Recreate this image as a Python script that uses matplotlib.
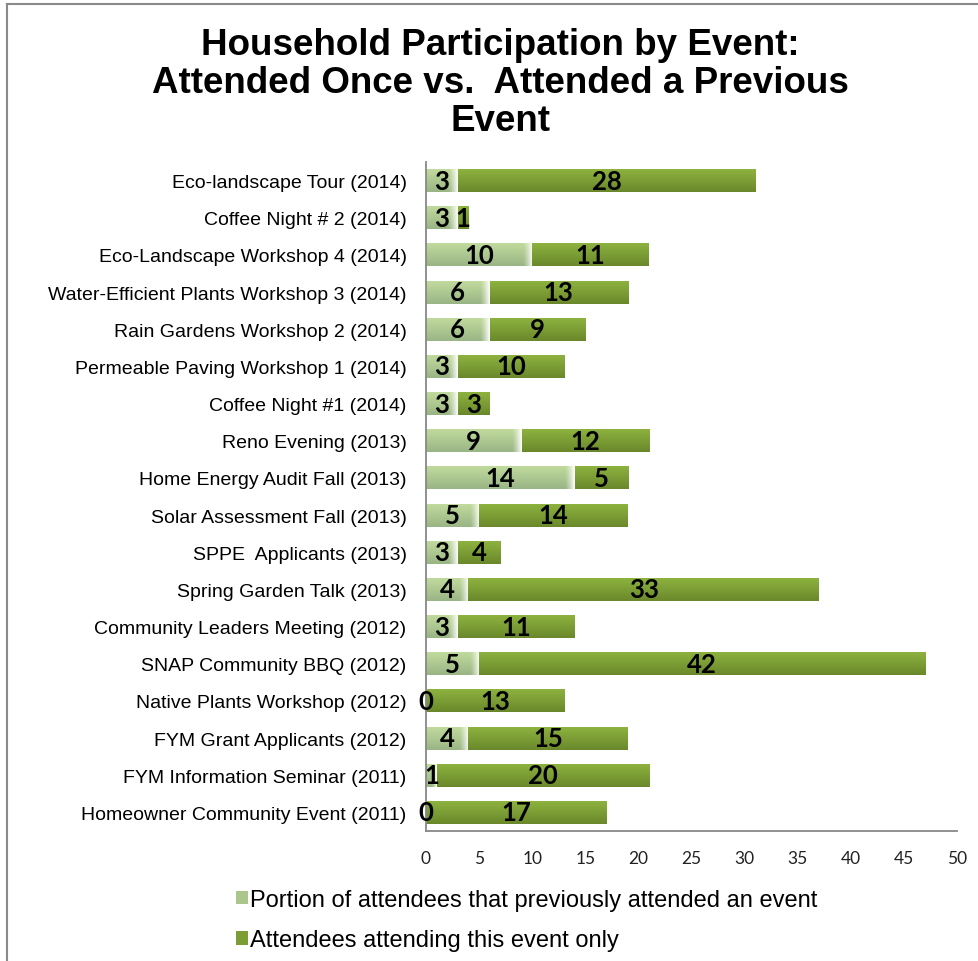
import matplotlib.pyplot as plt
import numpy as np
from matplotlib.colors import to_rgb
from matplotlib.lines import Line2D
from matplotlib.patches import Patch

# events listed top to bottom
events = [
    'Eco-landscape Tour (2014)',
    'Coffee Night # 2 (2014)',
    'Eco-Landscape Workshop 4 (2014)',
    'Water-Efficient Plants Workshop 3 (2014)',
    'Rain Gardens Workshop 2 (2014)',
    'Permeable Paving Workshop 1 (2014)',
    'Coffee Night #1 (2014)',
    'Reno Evening (2013)',
    'Home Energy Audit Fall (2013)',
    'Solar Assessment Fall (2013)',
    'SPPE  Applicants (2013)',
    'Spring Garden Talk (2013)',
    'Community Leaders Meeting (2012)',
    'SNAP Community BBQ (2012)',
    'Native Plants Workshop (2012)',
    'FYM Grant Applicants (2012)',
    'FYM Information Seminar (2011)',
    'Homeowner Community Event (2011)',
]
previous = [3, 3, 10, 6, 6, 3, 3, 9, 14, 5, 3, 4, 3, 5, 0, 4, 1, 0]
this_only = [28, 1, 11, 13, 9, 10, 3, 12, 5, 14, 4, 33, 11, 42, 13, 15, 20, 17]

xticks = [0, 5, 10, 15, 20, 25, 30, 35, 40, 45, 50]
legend_labels = ['Portion of attendees that previously attended an event',
                 'Attendees attending this event only']

LIGHT_TOP, LIGHT_BOT = '#c2dc9e', '#9ab585'
DARK_TOP, DARK_BOT = '#8fb440', '#6a882b'

plt.rcParams['font.family'] = ['Liberation Sans', 'DejaVu Sans']


def gradient(top, bot, nx, fade=0.0):
    # vertical shade from top colour to bottom colour, optional fade to white on the right
    t = np.linspace(0, 1, 64)[:, None, None]
    img = (1 - t) * np.array(to_rgb(top)) + t * np.array(to_rgb(bot))
    img = np.repeat(img, nx, axis=1)
    if fade > 0:
        x = np.linspace(0, 1, nx)
        w = np.clip((x - (1 - fade)) / fade, 0, 1) ** 1.3
        img = img * (1 - w[None, :, None]) + w[None, :, None]
    return img


fig = plt.figure(figsize=(9.79, 9.62), dpi=100)
ax = fig.add_axes([426 / 979, 1 - 832 / 962, (957 - 426) / 979, (832 - 163) / 962])

n = len(events)
y = np.arange(n)[::-1]
h = 0.62

b1 = ax.barh(y, previous, height=h, color='none', edgecolor='none')
b2 = ax.barh(y, this_only, left=previous, height=h, color='none', edgecolor='none')

for bars, top, bot, is_light in [(b1, LIGHT_TOP, LIGHT_BOT, True), (b2, DARK_TOP, DARK_BOT, False)]:
    for p in bars.patches:
        x0, w = p.get_x(), p.get_width()
        if w <= 0:
            continue
        yc0, hh = p.get_y(), p.get_height()
        fade = min(0.9 / w, 0.45) if is_light else 0.0
        img = gradient(top, bot, 200, fade)
        im = ax.imshow(img, extent=(x0, x0 + w, yc0, yc0 + hh), origin='upper',
                       aspect='auto', interpolation='bilinear', zorder=2)
        im.set_clip_path(p)

for bars in (b1, b2):
    ax.bar_label(bars, label_type='center', fontsize=18.5, fontweight='bold',
                 family=['Lato', 'DejaVu Sans'], color='black', zorder=5)

ax.set_xlim(0, 50)
ax.set_ylim(-0.5, n - 0.5)
ax.set_xticks(xticks)
ax.set_xticklabels([str(v) for v in xticks], family=['Lato', 'DejaVu Sans'],
                   fontsize=12.5, color='#222222')
ax.set_yticks(y)
ax.set_yticklabels(events, fontsize=14)
ax.tick_params(axis='both', length=0)
ax.tick_params(axis='x', pad=14)
ax.tick_params(axis='y', pad=14)
for s in ('top', 'right'):
    ax.spines[s].set_visible(False)
for s in ('left', 'bottom'):
    ax.spines[s].set_color('#888888')
    ax.spines[s].set_linewidth(1.3)

fig.text(0.511, 1 - 28 / 962, 'Household Participation by Event:\nAttended Once vs.  Attended a Previous\nEvent',
         ha='center', va='top', fontsize=26.5, fontweight='bold', linespacing=1.12)

handles = [Patch(facecolor='#abc68b', edgecolor='none'),
           Patch(facecolor='#7c9c35', edgecolor='none')]
fig.legend(handles, legend_labels, loc='upper left', bbox_to_anchor=(224 / 979, 1 - 878 / 962),
           frameon=False, fontsize=17, handlelength=0.5, handleheight=0.5,
           handletextpad=0.08, labelspacing=0.78, borderpad=0)

# outer frame edges
fig.add_artist(Line2D([7 / 979, 7 / 979], [0, 1 - 5 / 962], color='#8a8a8a', lw=1.5))
fig.add_artist(Line2D([7 / 979, 1], [1 - 5 / 962, 1 - 5 / 962], color='#8a8a8a', lw=1.5))

fig.savefig('out.png', dpi=100)
